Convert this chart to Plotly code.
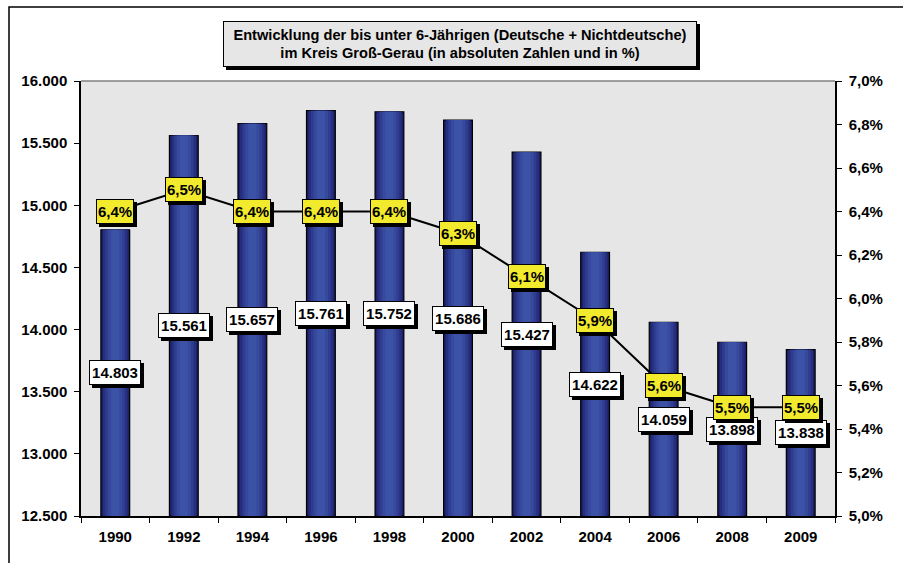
import plotly.graph_objects as go

# Children under 6 in Kreis Groß-Gerau: absolute numbers and share of population
years = ["1990", "1992", "1994", "1996", "1998", "2000", "2002", "2004", "2006", "2008", "2009"]
children = [14803, 15561, 15657, 15761, 15752, 15686, 15427, 14622, 14059, 13898, 13838]
share_pct = [6.4, 6.5, 6.4, 6.4, 6.4, 6.3, 6.1, 5.9, 5.6, 5.5, 5.5]

left_ticks = [12500, 13000, 13500, 14000, 14500, 15000, 15500, 16000]
right_ticks = [5.0, 5.2, 5.4, 5.6, 5.8, 6.0, 6.2, 6.4, 6.6, 6.8, 7.0]

FONT = "Liberation Sans, Arial, sans-serif"
y_min, y_max = 12500, 16000


def de_int(v):
    return f"{v:,}".replace(",", ".")


def de_pct(p):
    return f"{p:.1f}".replace(".", ",") + "%"


fig = go.Figure()

# Bars built from stacked layers of decreasing width to give a cylinder-like shading
bar_layers = [
    (0.42, "#1c2068"),
    (0.36, "#262e7e"),
    (0.29, "#2f3c90"),
    (0.21, "#37499c"),
    (0.12, "#3c52a6"),
]
for i, (w, col) in enumerate(bar_layers):
    fig.add_trace(go.Bar(
        x=years, y=[v - y_min for v in children], base=y_min,
        width=w, marker=dict(color=col,
                             line=dict(color="#000000", width=1.2 if i == 0 else 0)),
        hoverinfo="skip", showlegend=False, yaxis="y",
    ))

fig.add_trace(go.Scatter(
    x=years, y=share_pct, mode="lines",
    line=dict(color="#000000", width=2),
    yaxis="y2", showlegend=False, hoverinfo="skip",
))

annotations = []


def boxed(x, y, xref, yref, text, bg, w, h, size=15, pad=1, **extra):
    # drop shadow (an empty black box) first, then the label box on top
    common = dict(x=x, y=y, xref=xref, yref=yref, showarrow=False,
                  borderpad=pad, borderwidth=1, width=w, height=h,
                  xanchor="center", yanchor="middle", **extra)
    annotations.append(dict(text=" ", bgcolor="#000000", bordercolor="#000000",
                            font=dict(family=FONT, size=size, color="#000000"),
                            xshift=3, yshift=-3, **common))
    annotations.append(dict(text=text, bgcolor=bg, bordercolor="#000000",
                            font=dict(family=FONT, size=size, color="#000000", weight="bold"),
                            **common))


for i, v in enumerate(children):
    boxed(i, (y_min + v) / 2, "x", "y", de_int(v), "#ffffff", 48, 21)
for i, p in enumerate(share_pct):
    boxed(i, p, "x", "y2", de_pct(p), "#f2ea2c", 34, 21)

title_text = ("Entwicklung der bis unter 6-Jährigen (Deutsche + Nichtdeutsche)<br>"
              "im Kreis Groß-Gerau (in absoluten Zahlen und in %)")
boxed(0.5027, 1.085, "paper", "paper", title_text, "#e6e6e6", 466, 38,
      size=14.6, pad=3, align="center")

tick_font = dict(family=FONT, size=15, color="#000000", weight="bold")

fig.update_layout(
    width=903, height=563,
    margin=dict(l=81, r=68, t=81, b=47),
    paper_bgcolor="#ffffff", plot_bgcolor="#e6e6e6",
    barmode="overlay",
    annotations=annotations,
    xaxis=dict(type="category", range=[-0.5, 10.5], tickson="boundaries",
               ticks="outside", ticklen=5, tickcolor="#000000",
               ticklabelstandoff=6,
               showline=True, linecolor="#000000", linewidth=1.5,
               showgrid=False, tickfont=tick_font, fixedrange=True),
    yaxis=dict(range=[y_min, y_max], tickvals=left_ticks,
               ticktext=[de_int(t) for t in left_ticks],
               ticks="outside", ticklen=5, tickcolor="#000000",
               ticklabelstandoff=4,
               showline=True, linecolor="#000000", linewidth=1.5,
               showgrid=False, zeroline=False, tickfont=tick_font),
    yaxis2=dict(range=[5.0, 7.0], tickvals=right_ticks,
                ticktext=[de_pct(t) for t in right_ticks],
                overlaying="y", side="right", ticks="outside", ticklen=5,
                ticklabelstandoff=4,
                tickcolor="#000000", showline=True, linecolor="#000000", linewidth=1.5,
                showgrid=False, zeroline=False, tickfont=tick_font),
    shapes=[
        # top edge of the plotting area
        dict(type="line", xref="paper", yref="paper", x0=0, x1=1, y0=1, y1=1,
             line=dict(color="#808080", width=1.5)),
        # outer chart frame
        dict(type="rect", xref="paper", yref="paper", x0=-0.0955, x1=1.2,
             y0=-0.2, y1=1.170, line=dict(color="#000000", width=1.5)),
    ],
)

fig.write_html("out.html")
